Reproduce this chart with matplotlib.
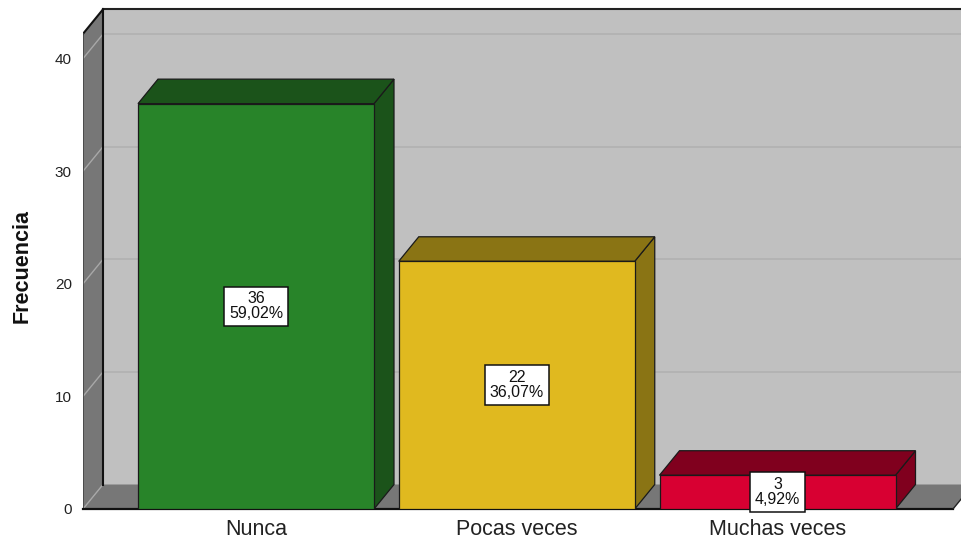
import matplotlib
matplotlib.use("Agg")
import matplotlib.pyplot as plt
from matplotlib.patches import Polygon, Rectangle

# Frequency table
categories = ["Nunca", "Pocas veces", "Muchas veces"]
counts = [36, 22, 3]
y_ticks = [0, 10, 20, 30, 40]

front_colors = ["#288429", "#e0b91f", "#d80032"]
shade_colors = ["#1b531a", "#8a7414", "#80001e"]

total = sum(counts)
pct_labels = [f"{c / total * 100:.2f}".replace(".", ",") + "%" for c in counts]

W, H, DPI = 961, 549, 100
fig = plt.figure(figsize=(W / DPI, H / DPI), dpi=DPI)

# axes placed in pixel terms: front plane from x=83px, baseline at y=509px
left_px, right_px, base_px = 83, 961, 509
ax = fig.add_axes([left_px / W, (H - base_px) / H, (right_px - left_px) / W, base_px / H])

px_per_cat = 260.75
px_per_unit = 11.26
x0_px = 256
xmin = (left_px - x0_px) / px_per_cat
xmax = (right_px - x0_px) / px_per_cat
ymax = base_px / px_per_unit
ax.set_xlim(xmin, xmax)
ax.set_ylim(0, ymax)

dx = 20 / px_per_cat       # depth offset (x)
dy = 24.5 / px_per_unit    # depth offset (y)
wall_top = 42.2
half_w = 118 / px_per_cat
floor_right = (953 - x0_px) / px_per_cat

wall_c = "#c0c0c0"
dark_c = "#777777"

# back wall
ax.add_patch(Polygon([(xmin + dx, dy), (xmax + 1, dy), (xmax + 1, wall_top + dy), (xmin + dx, wall_top + dy)],
                     closed=True, fc=wall_c, ec="none", zorder=1))
# floor
ax.add_patch(Polygon([(xmin, 0), (floor_right, 0), (floor_right + dx, dy), (xmin + dx, dy)],
                     closed=True, fc=dark_c, ec="none", zorder=2))
# left side wall
ax.add_patch(Polygon([(xmin, 0), (xmin + dx, dy), (xmin + dx, wall_top + dy), (xmin, wall_top)],
                     closed=True, fc=dark_c, ec="none", zorder=2))

# gridlines on back wall and side wall
for t in y_ticks:
    if t > 0:
        ax.plot([xmin + dx, xmax + 1], [t + dy, t + dy], color="#b3b3b3", lw=1.4, zorder=1.5, solid_capstyle="butt")
    ax.plot([xmin, xmin + dx], [t, t + dy], color="#a8a8a8", lw=1.0, zorder=2.5)

# wall outlines
ax.plot([xmin + dx, xmin + dx], [dy, wall_top + dy], color="#111111", lw=1.5, zorder=3)
ax.plot([xmin + dx, xmax + 1], [wall_top + dy, wall_top + dy], color="#222222", lw=1.5, zorder=3)
ax.plot([xmin, xmin + dx], [wall_top, wall_top + dy], color="#111111", lw=1.5, zorder=3)
ax.plot([xmin, xmin], [0, wall_top], color="#444444", lw=1.2, zorder=3)
ax.plot([xmin, floor_right], [0, 0], color="#111111", lw=1.6, zorder=3, clip_on=False)
ax.plot([floor_right, floor_right + dx], [0, dy], color="#222222", lw=1.0, zorder=3)

# bars
edge = "#1a1a1a"
for i, (v, fc, sc) in enumerate(zip(counts, front_colors, shade_colors)):
    xl, xr = i - half_w, i + half_w
    ax.add_patch(Polygon([(xr, 0), (xr + dx, dy), (xr + dx, v + dy), (xr, v)],
                         closed=True, fc=sc, ec=edge, lw=0.9, zorder=4))
    ax.add_patch(Polygon([(xl, v), (xr, v), (xr + dx, v + dy), (xl + dx, v + dy)],
                         closed=True, fc=sc, ec=edge, lw=0.9, zorder=4))
    ax.add_patch(Rectangle((xl, 0), xr - xl, v, fc=fc, ec=edge, lw=0.9, zorder=5))
    ax.text(i, v / 2, f"{v}\n{pct_labels[i]}", ha="center", va="center", multialignment="center",
            fontsize=11.5, family="Liberation Sans", color="#111111", linespacing=1.0, zorder=6,
            bbox=dict(boxstyle="square,pad=0.3", fc="white", ec="#111111", lw=1.1))

# axes and ticks
for s in ax.spines.values():
    s.set_visible(False)
ax.set_xticks(range(len(categories)))
ax.set_xticklabels(categories, fontsize=15.5, family="Liberation Sans", color="#222222")
ax.set_yticks(y_ticks)
ax.set_yticklabels([str(t) for t in y_ticks], fontsize=11, family="Liberation Sans", color="#222222")
ax.tick_params(axis="both", length=0)
ax.tick_params(axis="x", pad=7)
ax.tick_params(axis="y", pad=8)

fig.text(22 / W, 1 - 266 / H, "Frecuencia", rotation=90, ha="center", va="center",
         fontsize=15.5, fontweight="bold", family="Liberation Sans", color="#111111")

fig.savefig("out.png", dpi=DPI)
